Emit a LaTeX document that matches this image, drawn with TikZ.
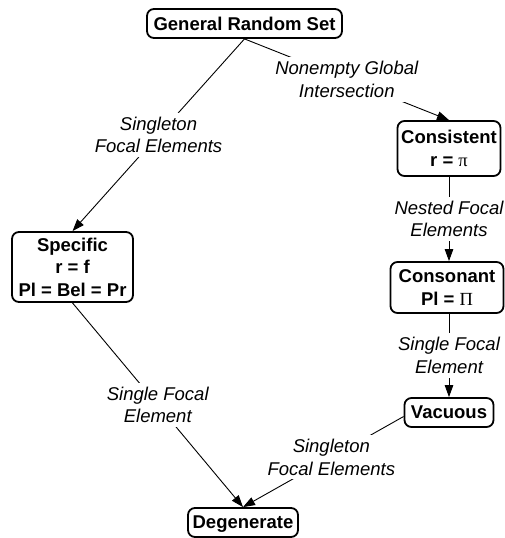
\documentclass[tikz,border=0pt]{standalone}
\usepackage{fontspec}
\setmainfont{Liberation Sans}
\newfontfamily\symserif{Liberation Serif}
\usetikzlibrary{arrows.meta}
\begin{document}
\begin{tikzpicture}[x=1pt,y=-1pt,
  box/.style={draw, line width=1.8pt, rounded corners=7pt, font=\bfseries\fontsize{18.5}{22.5}\selectfont, align=center, inner sep=0pt},
  lab/.style={fill=white, font=\itshape\fontsize{18.5}{22.5}\selectfont, align=center, inner sep=4pt},
  arr/.style={line width=0.9pt, -{Triangle[length=12pt,width=8.5pt]}}]
\useasboundingbox (0,0) rectangle (504,538);
\node[box, minimum width=195pt, minimum height=29pt] (gen) at (244.5,23.5) {General Random Set};
\node[box, minimum width=121pt, minimum height=70pt] (spec) at (72.5,267) {Specific\\r = f\\Pl = Bel = Pr};
\node[box, minimum width=103pt, minimum height=55pt] (cons) at (449,148.5) {Consistent\\r = {\symserif\mdseries π}};
\node[box, minimum width=113pt, minimum height=51pt] (conso) at (447,287.5) {Consonant\\Pl = {\symserif\mdseries Π}};
\node[box, minimum width=89pt, minimum height=29pt] (vac) at (449,412.5) {Vacuous};
\node[box, minimum width=110pt, minimum height=29pt, text depth=0pt] (deg) at (243,522.5) {Degenerate};
\draw[arr] (gen.south) -- node[lab]{Singleton\\Focal Elements} (spec.north);
\draw[arr] (gen.south) -- node[lab]{Nonempty Global\\Intersection} (cons.north);
\draw[arr] (cons.south) -- node[lab]{Nested Focal\\Elements} (cons.south |- conso.north);
\draw[arr] (cons.south |- conso.south) -- node[lab]{Single Focal\\Element} (vac.north);
\draw[arr] (spec.south) -- node[lab]{Single Focal\\Element} (deg.north);
\draw[arr] ([yshift=-4pt]vac.west) -- node[lab, pos=0.45]{Singleton\\Focal Elements} (deg.north);
\end{tikzpicture}
\end{document}
